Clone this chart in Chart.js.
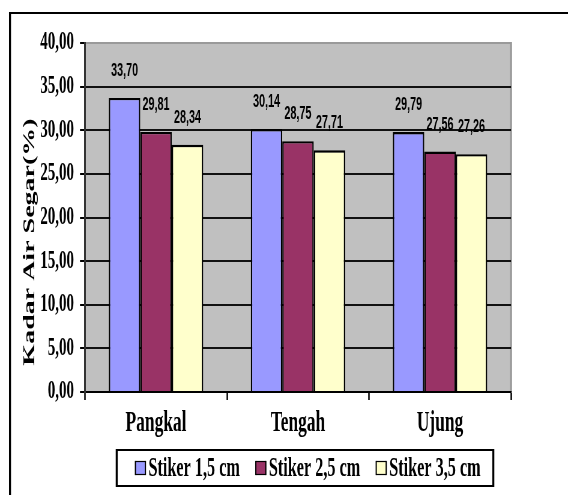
<!DOCTYPE html>
<html>
<head>
<meta charset="utf-8">
<script src="https://cdn.jsdelivr.net/npm/chart.js@4.4.0/dist/chart.umd.min.js"></script>
<style>
  html, body { margin: 0; padding: 0; background: #fff; overflow: hidden; }
  /* The figure is laid out on a wide canvas and condensed horizontally. */
  #wrap { position: absolute; left: 0; top: 0; width: 946px; height: 495px;
          transform: scaleX(0.6004); transform-origin: 0 0; }
</style>
</head>
<body>
<div id="wrap"><canvas id="c" width="946" height="495"></canvas></div>
<script>
const categories = ['Pangkal', 'Tengah', 'Ujung'];
const seriesNames = ['Stiker 1,5 cm', 'Stiker 2,5 cm', 'Stiker 3,5 cm'];
const stiker15 = [33.70, 30.14, 29.79];
const stiker25 = [29.81, 28.75, 27.56];
const stiker35 = [28.34, 27.71, 27.26];
const seriesColors = ['#9999FF', '#993366', '#FFFFCC'];
const yTickLabels = ['0,00', '5,00', '10,00', '15,00', '20,00', '25,00', '30,00', '35,00', '40,00'];
const yTitle = 'Kadar Air Segar(%)';

const SX = 0.6004;                 // horizontal condensing of the whole figure
const X = v => v / SX;             // screen x -> canvas x

const serif = '"Liberation Serif", "Times New Roman", serif';

function fmt(v) { return v.toFixed(2).replace('.', ','); }

// rectangle outline with separate vertical/horizontal thickness
function frameRect(ctx, x, y, w, h, lwV, lwH, color) {
  ctx.fillStyle = color;
  ctx.fillRect(x, y - lwH / 2, w, lwH);
  ctx.fillRect(x, y + h - lwH / 2, w, lwH);
  ctx.fillRect(x - lwV / 2, y - lwH / 2, lwV, h + lwH);
  ctx.fillRect(x + w - lwV / 2, y - lwH / 2, lwV, h + lwH);
}

const decorations = {
  id: 'decorations',
  beforeDraw(chart) {
    const { ctx, chartArea: a } = chart;
    ctx.save();
    ctx.fillStyle = '#fff';
    ctx.fillRect(0, 0, chart.width, chart.height);
    // outer frame (left and top edges)
    ctx.fillStyle = '#000';
    ctx.fillRect(X(9), 12, chart.width, 2);
    ctx.fillRect(X(9), 12, X(2), chart.height);
    // plot background
    ctx.fillStyle = '#C0C0C0';
    ctx.fillRect(a.left, a.top, a.right - a.left, a.bottom - a.top);
    ctx.fillStyle = '#9a9a9a';
    ctx.fillRect(a.left, a.top - 1, a.right - a.left, 2);
    ctx.fillRect(a.right - X(1), a.top - 1, X(2), a.bottom - a.top + 1);
    ctx.restore();
  },
  afterDatasetsDraw(chart) {
    const ctx = chart.ctx;
    ctx.save();
    ctx.font = 'bold 18px "Liberation Sans", Arial, sans-serif';
    ctx.fillStyle = '#000';
    ctx.textAlign = 'center';
    ctx.textBaseline = 'middle';
    chart.data.datasets.forEach((ds, i) => {
      chart.getDatasetMeta(i).data.forEach((bar, j) => {
        ctx.fillText(fmt(ds.data[j]), bar.x, bar.y - 27);
      });
    });
    ctx.restore();
  },
  afterDraw(chart) {
    const ctx = chart.ctx;
    ctx.save();
    // vertical axis title
    ctx.translate(X(30), 242);
    ctx.rotate(-Math.PI / 2);
    ctx.font = 'bold 28px ' + serif;
    ctx.fillStyle = '#000';
    ctx.textAlign = 'center';
    ctx.textBaseline = 'middle';
    ctx.fillText(yTitle, 0, 0);
    ctx.restore();

    // legend box
    ctx.save();
    const bx = X(116.7), by = 450, bw = X(493.3) - X(116.7), bh = 36;
    ctx.fillStyle = '#fff';
    ctx.fillRect(bx, by, bw, bh);
    frameRect(ctx, bx, by, bw, bh, X(2), 2, '#000');
    ctx.font = 'bold 27px ' + serif;
    const sw = X(10), sh = 13, gapSw = X(3), gapItem = X(16);
    const widths = seriesNames.map(n => ctx.measureText(n).width);
    const total = widths.reduce((s, w) => s + w, 0) + 3 * (sw + gapSw) + 2 * gapItem;
    let x = bx + (bw - total) / 2 + X(3);
    const cy = by + bh / 2;
    ctx.textBaseline = 'middle';
    ctx.textAlign = 'left';
    seriesNames.forEach((n, i) => {
      ctx.fillStyle = seriesColors[i];
      ctx.fillRect(x, cy - sh / 2, sw, sh);
      frameRect(ctx, x, cy - sh / 2, sw, sh, X(1.2), 1.2, '#000');
      x += sw + gapSw;
      ctx.fillStyle = '#000';
      ctx.fillText(n, x, cy + 1);
      x += widths[i] + gapItem;
    });
    ctx.restore();
  }
};

const series = [stiker15, stiker25, stiker35];

new Chart(document.getElementById('c'), {
  type: 'bar',
  data: {
    labels: categories,
    datasets: series.map((d, i) => ({
      label: seriesNames[i],
      data: d,
      backgroundColor: seriesColors[i],
      borderColor: '#000',
      borderWidth: 2.4,
      categoryPercentage: 0.665,
      barPercentage: 1.0
    }))
  },
  options: {
    responsive: false,
    animation: false,
    devicePixelRatio: 1,
    layout: { padding: { top: 43, left: 0, right: 946 - X(511), bottom: 495 - 392 - 60 } },
    plugins: { legend: { display: false }, tooltip: { enabled: false } },
    scales: {
      x: {
        offset: true,
        grid: { offset: true, drawOnChartArea: false, drawTicks: true, tickLength: 8,
                tickColor: '#000', tickWidth: 2.5 },
        border: { display: true, color: '#000', width: 2 },
        ticks: { font: { family: serif, size: 29, weight: 'bold' }, color: '#000',
                 padding: 6, maxRotation: 0 },
        afterFit: s => { s.height = 60; }
      },
      y: {
        min: 0, max: 40,
        ticks: { stepSize: 5, callback: (v, i) => yTickLabels[i],
                 font: { family: serif, size: 25, weight: 'bold' }, color: '#000', padding: 10 },
        grid: {
          color: c => (c.tick && (c.tick.value === 0 || c.tick.value === 40)) ? 'rgba(0,0,0,0)' : '#111',
          lineWidth: 2, tickColor: '#000', tickLength: X(5), tickWidth: 2
        },
        border: { display: true, color: '#333', width: 3 },
        afterFit: s => { s.width = X(85); }
      }
    }
  },
  plugins: [decorations]
});
</script>
</body>
</html>
